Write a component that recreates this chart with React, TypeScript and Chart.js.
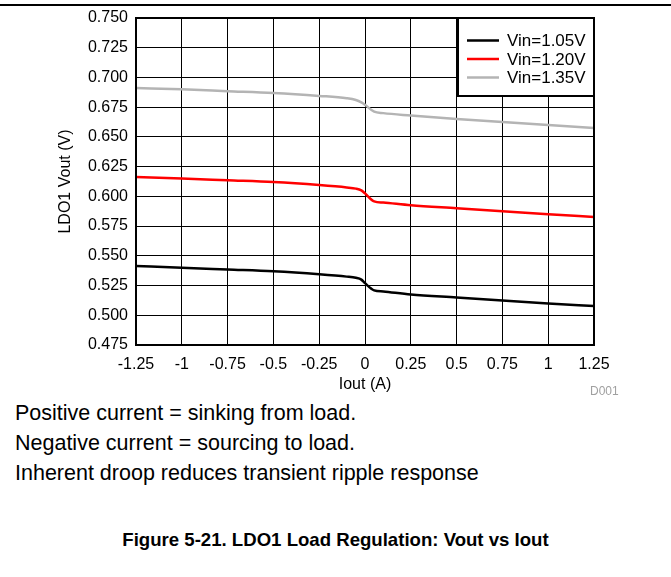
import React, { useEffect, useRef } from "react";
import { Chart, registerables } from "chart.js";

Chart.register(...registerables);

const iout = [-1.25, -1, -0.75, -0.5, -0.25, -0.1, -0.05, -0.02, 0, 0.05, 0.1, 0.25, 0.5, 0.75, 1, 1.25];
const vin105 = [0.5414, 0.540, 0.5385, 0.537, 0.5345, 0.5325, 0.5315, 0.530, 0.527, 0.521, 0.520, 0.5175, 0.515, 0.5125, 0.510, 0.5078];
const vin120 = [0.6163, 0.615, 0.6135, 0.612, 0.6095, 0.6075, 0.6065, 0.605, 0.6025, 0.5958, 0.5948, 0.5925, 0.590, 0.5875, 0.585, 0.5826];
const vin135 = [0.6911, 0.690, 0.6885, 0.687, 0.6845, 0.6825, 0.681, 0.679, 0.677, 0.6712, 0.670, 0.668, 0.665, 0.6625, 0.660, 0.6575];
const seriesLabels = ["Vin=1.05V", "Vin=1.20V", "Vin=1.35V"];
const seriesColors = ["#000000", "#ff0000", "#b4b4b4"];
const xTitle = "Iout (A)";
const yTitle = "LDO1 Vout (V)";
const notes = [
  "Positive current = sinking from load.",
  "Negative current = sourcing to load.",
  "Inherent droop reduces transient ripple response",
];
const caption = "Figure 5-21. LDO1 Load Regulation: Vout vs Iout";

const FONT = "'Liberation Sans', Arial, sans-serif";

const framePlugin = {
  id: "frame",
  afterDatasetsDraw(chart: any) {
    const { ctx, chartArea } = chart;
    const { left, right, top, bottom } = chartArea;
    ctx.save();
    ctx.strokeStyle = "#000";
    ctx.lineWidth = 2;
    ctx.strokeRect(left, top, right - left, bottom - top);

    // legend box
    const bw = 136, bh = 78;
    const bx = right - bw, by = top;
    ctx.fillStyle = "#fff";
    ctx.fillRect(bx, by, bw, bh);
    ctx.strokeRect(bx, by, bw, bh);
    ctx.font = `17px ${FONT}`;
    ctx.textBaseline = "middle";
    ctx.textAlign = "left";
    chart.data.datasets.forEach((ds: any, i: number) => {
      const y = by + 22.5 + i * 18.5;
      ctx.strokeStyle = ds.borderColor;
      ctx.lineWidth = 2.5;
      ctx.beginPath();
      ctx.moveTo(bx + 9, y);
      ctx.lineTo(bx + 41, y);
      ctx.stroke();
      ctx.fillStyle = "#000";
      ctx.fillText(ds.label, bx + 49, y + 1);
    });
    ctx.restore();
  },
};

function ChartBox() {
  const ref = useRef<HTMLCanvasElement>(null);
  useEffect(() => {
    if (!ref.current) return;
    const mk = (vals: number[]) => iout.map((x, i) => ({ x, y: vals[i] }));
    const chart = new Chart(ref.current, {
      type: "line",
      data: {
        datasets: [vin105, vin120, vin135].map((v, i) => ({
          label: seriesLabels[i],
          data: mk(v),
          borderColor: seriesColors[i],
          backgroundColor: seriesColors[i],
          borderWidth: 2.5,
          pointRadius: 0,
          cubicInterpolationMode: "monotone" as const,
          fill: false,
        })),
      },
      options: {
        animation: false,
        responsive: false,
        maintainAspectRatio: false,
        layout: { padding: { top: 18, right: 77, left: 0, bottom: 0 } },
        plugins: { legend: { display: false }, tooltip: { enabled: false } },
        scales: {
          x: {
            type: "linear",
            min: -1.25,
            max: 1.25,
            afterFit: (s: any) => { s.height = 55; },
            grid: { color: "#000", lineWidth: 1, drawTicks: false },
            border: { display: false },
            ticks: {
              stepSize: 0.25,
              padding: 10,
              color: "#000",
              font: { family: FONT, size: 16 },
              maxRotation: 0,
              autoSkip: false,
              callback: (v: any) => String(Math.round(Number(v) * 100) / 100),
            },
            title: {
              display: true,
              text: xTitle,
              color: "#000",
              font: { family: FONT, size: 16 },
              padding: { top: 0, bottom: 6 },
            },
          },
          y: {
            type: "linear",
            min: 0.475,
            max: 0.75,
            afterFit: (s: any) => { s.width = 136; },
            grid: { color: "#000", lineWidth: 1, drawTicks: false },
            border: { display: false },
            ticks: {
              stepSize: 0.025,
              padding: 8,
              color: "#000",
              font: { family: FONT, size: 16 },
              autoSkip: false,
              callback: (v: any) => Number(v).toFixed(3),
            },
            title: {
              display: true,
              text: yTitle,
              color: "#000",
              font: { family: FONT, size: 16 },
              padding: { top: 56, bottom: 0 },
            },
          },
        },
      },
      plugins: [framePlugin],
    });
    return () => chart.destroy();
  }, []);
  return (
    <canvas
      ref={ref}
      width={671}
      height={400}
      style={{ position: "absolute", left: 0, top: 0, width: 671, height: 400 }}
    />
  );
}

export default function App() {
  return (
    <div
      style={{
        position: "absolute",
        left: 0,
        top: 0,
        width: 671,
        height: 577,
        background: "#fff",
        fontFamily: FONT,
        color: "#000",
        overflow: "hidden",
      }}
    >
      <div style={{ position: "absolute", left: 0, top: 4, width: 671, height: 2, background: "#000" }} />
      <ChartBox />
      <div style={{ position: "absolute", left: 590, top: 384, fontSize: 12, color: "#a0a0a0" }}>D001</div>
      {notes.map((t, i) => (
        <div
          key={i}
          style={{ position: "absolute", left: 15, top: 400 + i * 30, fontSize: 21.5, lineHeight: "26px", whiteSpace: "nowrap" }}
        >
          {t}
        </div>
      ))}
      <div
        style={{
          position: "absolute",
          left: 0,
          width: 671,
          top: 529,
          textAlign: "center",
          fontSize: 18.6,
          fontWeight: "bold",
          lineHeight: "22px",
        }}
      >
        {caption}
      </div>
    </div>
  );
}
